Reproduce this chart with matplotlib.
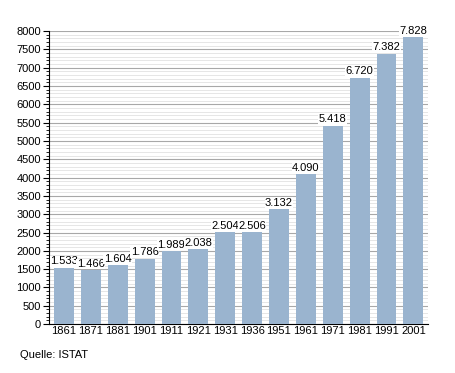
import matplotlib
matplotlib.use("Agg")
import matplotlib.pyplot as plt
from matplotlib.ticker import MultipleLocator

plt.rcParams['font.family'] = ['Liberation Sans', 'DejaVu Sans']

years = ["1861", "1871", "1881", "1901", "1911", "1921", "1931",
         "1936", "1951", "1961", "1971", "1981", "1991", "2001"]
population = [1533, 1466, 1604, 1786, 1989, 2038, 2504,
              2506, 3132, 4090, 5418, 6720, 7382, 7828]
labels = ["1.533", "1.466", "1.604", "1.786", "1.989", "2.038", "2.504",
          "2.506", "3.132", "4.090", "5.418", "6.720", "7.382", "7.828"]

fig = plt.figure(figsize=(4.55, 3.73), dpi=100)
ax = fig.add_axes([0.108, 0.131, 0.833, 0.786])

x = range(len(years))
ax.bar(x, population, width=0.74, color="#9ab4cf", zorder=3)

for i, (v, t) in enumerate(zip(population, labels)):
    ax.text(i, v + 40, t, ha="center", va="bottom", fontsize=8, zorder=4,
            bbox=dict(facecolor="white", edgecolor="none", pad=0.3))

ax.set_xlim(-0.55, len(years) - 0.45)
ax.set_ylim(0, 8000)
ax.set_xticks(list(x))
ax.set_xticklabels(years)
ax.yaxis.set_major_locator(MultipleLocator(500))
ax.yaxis.set_minor_locator(MultipleLocator(100))
ax.grid(axis="y", which="major", color="#a8a8a8", linewidth=0.8, zorder=1)
ax.grid(axis="y", which="minor", color="#e2e2e2", linewidth=0.6, zorder=0)

ax.tick_params(axis="x", length=0, labelsize=8, pad=1.5)
ax.tick_params(axis="y", which="major", length=4, width=0.8, labelsize=8, pad=2)
ax.tick_params(axis="y", which="minor", length=2, width=0.6)

for s in ["top", "right"]:
    ax.spines[s].set_visible(False)
ax.spines["left"].set_linewidth(0.8)
ax.spines["bottom"].set_linewidth(0.8)

fig.text(20 / 455, 1 - 355 / 373, "Quelle: ISTAT", fontsize=8, va="center")

fig.savefig("out.png", dpi=100)
